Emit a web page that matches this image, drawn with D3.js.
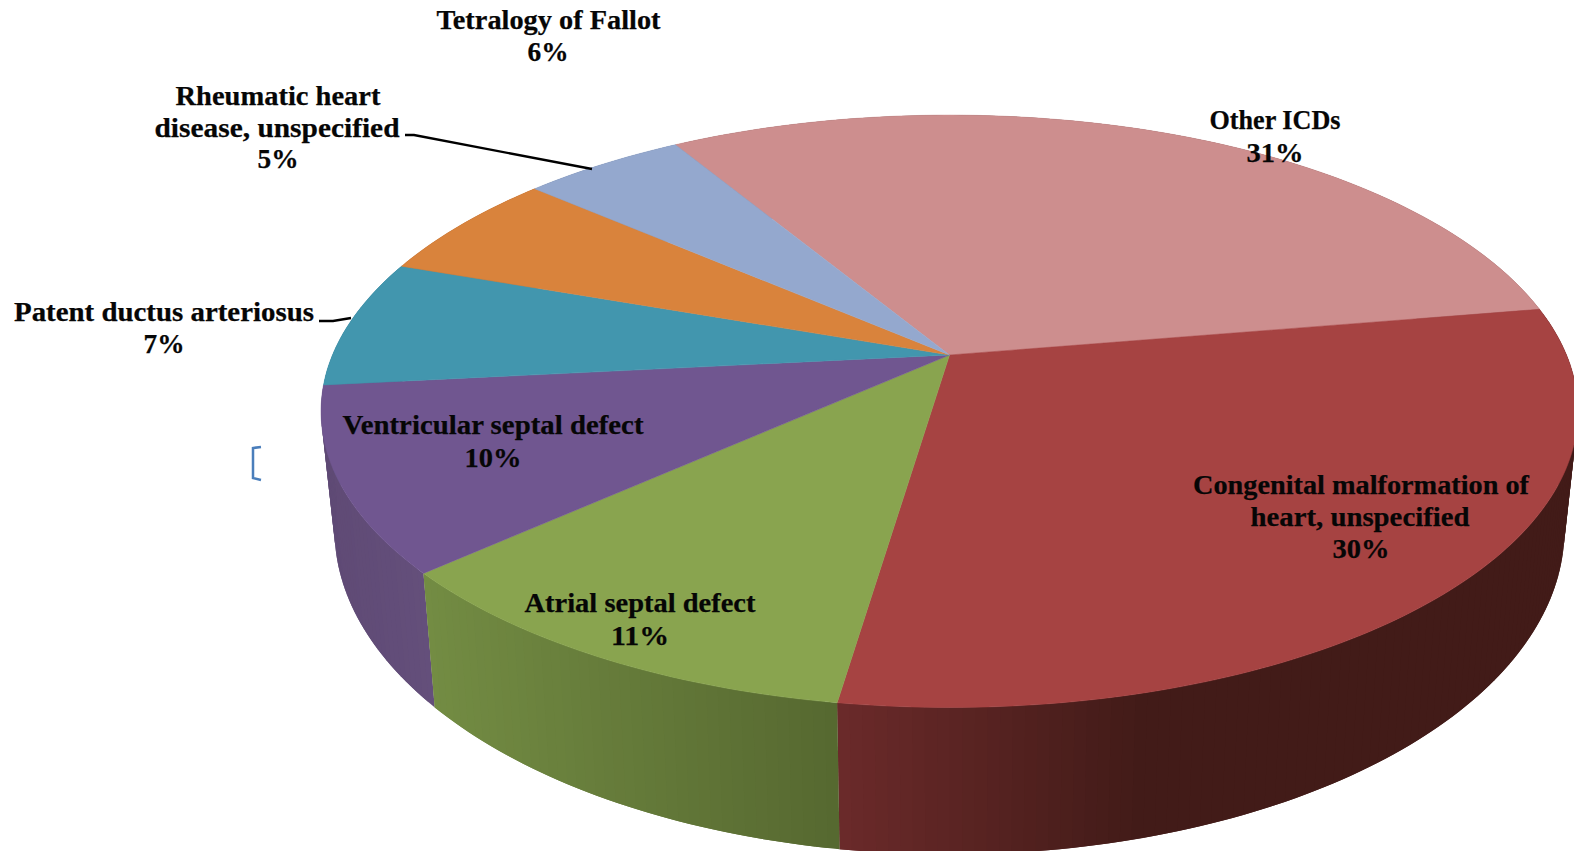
<!DOCTYPE html>
<html>
<head>
<meta charset="utf-8">
<script src="https://cdnjs.cloudflare.com/ajax/libs/d3/7.8.5/d3.min.js"></script>
<style>
html,body{margin:0;padding:0;background:#fff;overflow:hidden}
svg{display:block}
text{font-family:"Liberation Serif",serif;font-weight:bold;font-size:28px;fill:#060606;stroke:#060606;stroke-width:0.25;text-anchor:middle}
</style>
</head>
<body>
<svg id="chart" width="1574" height="851"></svg>
<script>
// Diagnoses and their shares, clockwise from the upper left of the disc
const categories = ["Other ICDs","Congenital malformation of heart, unspecified","Atrial septal defect","Ventricular septal defect","Patent ductus arteriosus","Tetralogy of Fallot","Rheumatic heart disease, unspecified"];
const shares = [31,30,11,10,7,6,5];
const topColors = ["#cd8e8e","#a64342","#89a44f","#705690","#4296ae","#d9833c","#94a8ce"];
// Side wall shades at the left and right ends of each slice
const wallLeft = ["#8f6464","#6b2a2a","#738c43","#5f4a75","#35788c","#a96430","#74839f"];
const wallRight = ["#8f6464","#421b18","#566830","#644f7b","#35788c","#a96430","#74839f"];
// Fraction of a slice's width over which its wall shade changes
const wallRamp = [1,0.41,1,1,1,1,1];

// Wrapped label lines with their placement
const labelLines = [
  {text:"Tetralogy of Fallot",x:548.5,y:29,w:224},
  {text:"6%",x:548,y:61,w:41},
  {text:"Rheumatic heart",x:278,y:105,w:205},
  {text:"disease, unspecified",x:277,y:137,w:245},
  {text:"5%",x:278,y:168,w:41},
  {text:"Patent ductus arteriosus",x:164,y:321,w:300},
  {text:"7%",x:164,y:353,w:41},
  {text:"Other ICDs",x:1275,y:129,w:131},
  {text:"31%",x:1275,y:162,w:57},
  {text:"Congenital malformation of",x:1361,y:494,w:336},
  {text:"heart, unspecified",x:1360,y:526,w:219},
  {text:"30%",x:1361,y:558,w:57},
  {text:"Ventricular septal defect",x:493,y:434,w:301},
  {text:"10%",x:493,y:467,w:57},
  {text:"Atrial septal defect",x:640,y:612,w:231},
  {text:"11%",x:640,y:645,w:58}
];
const leaderLines = [
  [[405,135],[414,135],[592,169]],
  [[319,321],[333,321],[351,318]]
];
const bracket = [[261,447],[253,448],[253,478],[261,480]];

const START = -31.1 * Math.PI / 180;

// Perspective projection of the unit disc: nearer points spread further apart
function projector(cx, cy, a, b, p) {
  return angle => {
    const u = Math.sin(angle), v = -Math.cos(angle), w = 1 + p * v;
    return [cx + a * u / w, cy + b * v / w];
  };
}
const topRim = projector(949.5, 355, 617, 285.5, -0.19);
const bottomRim = projector(949.5, 468, 603.8, 313, -0.19);

const svg = d3.select("#chart");
const color = d3.scaleOrdinal().domain(categories).range(topColors);

const slices = d3.pie().sort(null).startAngle(START).endAngle(START + 2 * Math.PI)
  .value((d, i) => shares[i])(categories);

const line = d3.line();
function arcPoints(rim, s) {
  const n = Math.max(8, Math.ceil((s.endAngle - s.startAngle) * 60));
  return d3.range(n + 1).map(i => rim(s.startAngle + (s.endAngle - s.startAngle) * i / n));
}

// Side walls back to front, each one a run of narrow shaded facets drawn
// left over right so neighbouring facets overlap without seams
const walls = svg.append("g");
slices.slice()
  .sort((p, q) => Math.cos((q.startAngle + q.endAngle) / 2) - Math.cos((p.startAngle + p.endAngle) / 2))
  .forEach(s => {
    const idx = categories.indexOf(s.data);
    const top = arcPoints(topRim, s), bottom = arcPoints(bottomRim, s);
    const [x0, x1] = d3.extent(top, d => d[0]);
    const shade = d3.scaleLinear()
      .domain([x0, x0 + (x1 - x0) * wallRamp[idx]])
      .range([wallLeft[idx], wallRight[idx]])
      .clamp(true);
    const g = walls.append("g");
    d3.range(top.length - 1).forEach(i => {
      const fill = shade((top[i][0] + top[i + 1][0]) / 2);
      // Each facet reaches over the next rim sample to close the gap beside it
      const j = Math.min(i + 2, top.length - 1);
      g.append("path")
        .attr("d", line([top[i], top[j], bottom[j], bottom[i]]) + "Z")
        .attr("fill", fill);
    });
  });

// Top faces
svg.append("g").selectAll("path").data(slices).join("path")
  .attr("d", s => line([[949.5, 355]].concat(arcPoints(topRim, s))) + "Z")
  .attr("fill", s => color(s.data))
  .attr("stroke", s => color(s.data))
  .attr("stroke-width", 0.5);

// Leader lines from outside labels to their slices
svg.append("g").selectAll("path").data(leaderLines).join("path")
  .attr("d", line).attr("fill", "none").attr("stroke", "#000").attr("stroke-width", 2.3);

svg.append("path").attr("d", line(bracket)).attr("fill", "none")
  .attr("stroke", "#4a7ebb").attr("stroke-width", 2.5);

svg.append("g").selectAll("text").data(labelLines).join("text")
  .attr("x", d => d.x).attr("y", d => d.y)
  .attr("textLength", d => d.w).attr("lengthAdjust", "spacingAndGlyphs")
  .text(d => d.text);
</script>
</body>
</html>
